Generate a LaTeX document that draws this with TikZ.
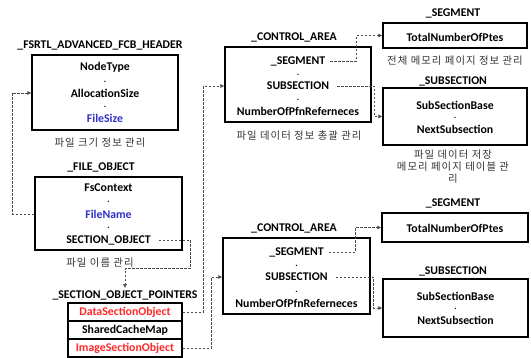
\documentclass[tikz,border=0pt]{standalone}
\usepackage{fontspec}
\setmainfont{Carlito}
\newfontfamily\kor{Noto Sans CJK KR}[LetterSpace=10]
\usetikzlibrary{arrows.meta}
\definecolor{fblue}{HTML}{3030C8}
\definecolor{fred}{HTML}{FF2828}
\tikzset{
  box/.style={draw, line width=1.2pt, inner sep=0pt},
  fld/.style={font=\fontsize{11.8}{13}\selectfont\bfseries, inner sep=0pt},
  ttl/.style={font=\fontsize{11.8}{13}\selectfont\bfseries, inner sep=0pt},
  dotf/.style={font=\fontsize{9}{10}\selectfont\bfseries, inner sep=0pt, text height=1.4pt, text depth=0pt},
  captxt/.style={font=\kor\fontsize{10.4}{12}\selectfont, text=black!80, align=center, inner sep=0pt},
  link/.style={draw=black!70, dash pattern=on 2.5pt off 1.5pt, line width=0.6pt},
  arr/.style={link, -{Latex[length=4pt,width=4pt]}},
}
\begin{document}
\begin{tikzpicture}[x=1pt,y=-1pt]
\useasboundingbox (0,0) rectangle (531,358);
% FSRTL
\node[ttl] (fsrtlt) at (100,45) {\_FSRTL\_ADVANCED\_FCB\_HEADER};
\node[box, minimum width=146pt, minimum height=75pt] (fsrtl) at (105,92.5) {};
\node[fld] (ntype) at (105,67) {NodeType};
\node[dotf] (d1) at (105,82) {.};
\node[fld] (alloc) at (105,93) {AllocationSize};
\node[dotf] (d2) at (105,107) {.};
\node[fld, text=fblue] (fsize) at (105,118) {FileSize};
\node[captxt] (c1) at (100,143) {파일 크기 정보 관리};
% FILE_OBJECT
\node[ttl] (fot) at (101,167) {\_FILE\_OBJECT};
\node[box, minimum width=147pt, minimum height=73pt] (fo) at (108.5,213.5) {};
\node[fld] (fsctx) at (108.5,188) {FsContext};
\node[dotf] (d3) at (108.5,202) {.};
\node[fld, text=fblue] (fname) at (108.5,214) {FileName};
\node[dotf] (d4) at (108.5,228) {.};
\node[fld] (secobj) at (108.5,240) {SECTION\_OBJECT};
\node[captxt] (c2) at (100,263) {파일 이름 관리};
% SECTION_OBJECT_POINTERS
\node[ttl] (sopt) at (125,295) {\_SECTION\_OBJECT\_POINTERS};
\node[box, minimum width=114pt, minimum height=18pt, fld, text=fred] (dso) at (125,312) {DataSectionObject};
\node[box, minimum width=114pt, minimum height=18pt, fld] (scm) at (125,330) {SharedCacheMap};
\node[box, minimum width=114pt, minimum height=18pt, fld, text=fred] (iso) at (125,348) {ImageSectionObject};
% CONTROL_AREA 1
\node[ttl] (ca1t) at (294,37) {\_CONTROL\_AREA};
\node[box, minimum width=146pt, minimum height=75pt] (ca1) at (298,84.5) {};
\node[fld] (ca1seg) at (298,61) {\_SEGMENT};
\node[dotf] (d5) at (298,75) {.};
\node[fld] (ca1sub) at (298,86) {SUBSECTION};
\node[dotf] (d6) at (298,100) {.};
\node[fld] (ca1num) at (298,111) {NumberOfPfnReferneces};
\node[captxt] (c3) at (299,136) {파일 데이터 정보 총괄 관리};
% SEGMENT 1
\node[ttl] (seg1t) at (453,13) {\_SEGMENT};
\node[box, minimum width=144pt, minimum height=25pt] (seg1) at (455,35.5) {};
\node[fld] (seg1a) at (455,37) {TotalNumberOfPtes};
\node[captxt] (c4) at (455,61) {전체 메모리 페이지 정보 관리};
% SUBSECTION 1
\node[ttl] (sub1t) at (453,81) {\_SUBSECTION};
\node[box, minimum width=144pt, minimum height=57pt] (sub1) at (455,116.5) {};
\node[fld] (sub1a) at (455,105) {SubSectionBase};
\node[dotf] (d7) at (455,117.5) {.};
\node[fld] (sub1b) at (455,129) {NextSubsection};
\node[captxt] (c5) at (453,167) {파일 데이터 저장\\메모리 페이지 테이블 관\\리};
% CONTROL_AREA 2
\node[ttl] (ca2t) at (294,228) {\_CONTROL\_AREA};
\node[box, minimum width=147pt, minimum height=76pt] (ca2) at (296.5,276) {};
\node[fld] (ca2seg) at (296.5,252) {\_SEGMENT};
\node[dotf] (d8) at (296.5,266) {.};
\node[fld] (ca2sub) at (296.5,277) {SUBSECTION};
\node[dotf] (d9) at (296.5,292) {.};
\node[fld] (ca2num) at (296.5,303) {NumberOfPfnReferneces};
% SEGMENT 2
\node[ttl] (seg2t) at (453,203) {\_SEGMENT};
\node[box, minimum width=146pt, minimum height=29pt] (seg2) at (455,227.5) {};
\node[fld] (seg2a) at (455,228) {TotalNumberOfPtes};
% SUBSECTION 2
\node[ttl] (sub2t) at (453,271) {\_SUBSECTION};
\node[box, minimum width=145pt, minimum height=58pt] (sub2) at (455.5,308) {};
\node[fld] (sub2a) at (455.5,296) {SubSectionBase};
\node[dotf] (d10) at (455.5,308.5) {.};
\node[fld] (sub2b) at (455.5,320) {NextSubsection};
% connectors
\draw[arr] (fo.west |- fname) -- ([xshift=-22pt]fo.west |- fname) |- (fsrtl.west |- alloc);
\draw[arr] ([xshift=8pt]secobj.east) -- ([xshift=8pt]fo.east |- secobj) -- ([xshift=8pt,yshift=-18pt]fo.south east) -| ([yshift=2pt]sopt.north);
\draw[arr] (dso.east) -- ([xshift=-21pt]ca1.west |- dso) |- (ca1.west |- ca1sub);
\draw[arr] (iso.east) -- ([xshift=-11pt]ca2.west |- iso) |- (ca2.west |- ca2sub);
\draw[arr] ([xshift=5pt]ca1seg.east) -- ([xshift=-15pt]ca1.east |- ca1seg) |- (seg1.west);
\draw[arr] ([xshift=8pt]ca1sub.east) -- ([xshift=3pt]ca1.east |- ca1sub) |- (sub1.west);
\draw[arr] ([xshift=5pt]ca2seg.east) -- ([xshift=-15pt]ca2.east |- ca2seg) |- (seg2.west);
\draw[arr] ([xshift=8pt]ca2sub.east) -- ([xshift=3pt]ca2.east |- ca2sub) |- (sub2.west);
\end{tikzpicture}
\end{document}
